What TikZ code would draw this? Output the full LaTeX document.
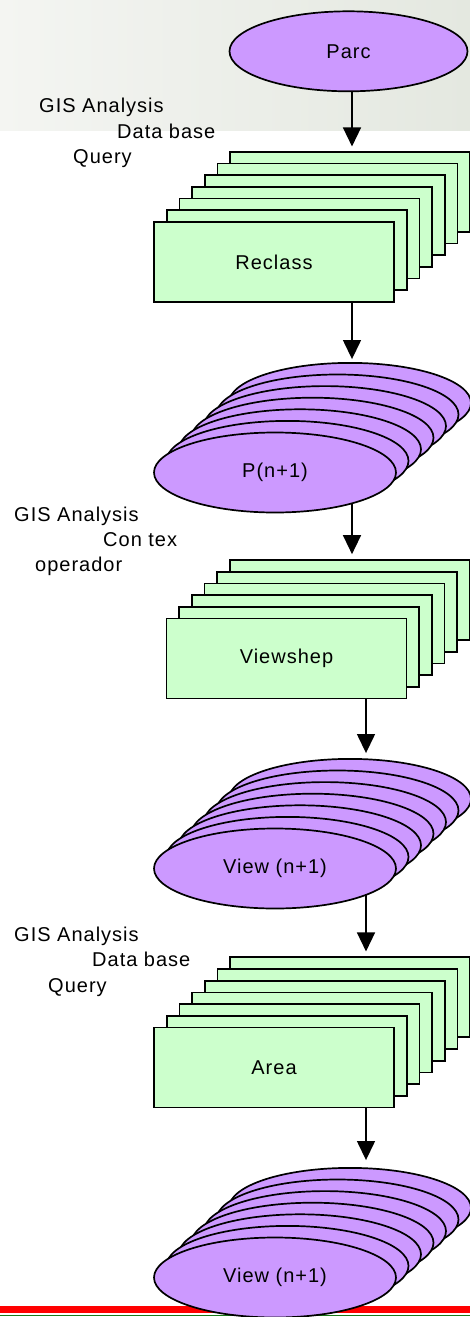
\documentclass[tikz,border=0pt]{standalone}
\usepackage{fontspec}
\setmainfont{Liberation Sans}[LetterSpace=5]
\usetikzlibrary{shapes.geometric,arrows.meta,calc}

\definecolor{lilac}{HTML}{CC99FF}
\definecolor{mint}{HTML}{CCFFCC}
\definecolor{hazeL}{HTML}{F4F5F2}
\definecolor{hazeR}{HTML}{E4E8E0}
\definecolor{rule}{HTML}{FF0000}
\definecolor{ruleg}{HTML}{1A7A1A}

\pgfdeclarelayer{bg}
\pgfdeclarelayer{conn}
\pgfsetlayers{bg,conn,main}

\tikzset{
  txt/.style={font=\fontsize{20}{24}\selectfont},
  lbl/.style={txt, anchor=base west, inner sep=0pt},
  disc/.style={txt, ellipse, draw=black, line width=1.7pt, fill=lilac,
    minimum width=242pt, minimum height=80pt, inner sep=0pt},
  card/.style={txt, rectangle, draw=black, line width=1.7pt, fill=mint,
    minimum width=240pt, minimum height=80pt, inner sep=0pt},
  flow/.style={line width=1.4pt, -{Triangle[length=19pt,width=18pt]}},
}

\begin{document}
\begin{tikzpicture}[x=1pt,y=-1pt]
\useasboundingbox (0,0) rectangle (470,1317);

% shaded band behind the first step, rules along the bottom
\begin{pgfonlayer}{bg}
  \shade[left color=hazeL, right color=hazeR] (0,0) rectangle (470,130);
  \fill[rule] (0,1306) rectangle (470,1313);
  \draw[ruleg, line width=1.2pt] (0,1315.6) -- (470,1315.6);
\end{pgfonlayer}

% source layer
\node[disc, minimum width=238pt] (parc) at (348.5,51.3) {Parc};

% step 1: reclassification cards
\foreach \k in {6,5,...,1}
  \node[card] (rA\k) at ($(274,262)+\k*(12.7,-11.7)$) {};
\node[card] (rA0) at (274,262) {Reclass};

% result stack P(n+1)
\foreach \k in {6,5,...,1}
  \node[disc] (eA\k) at ($(275,472.5)+\k*(12.5,-11.6)$) {};
\node[disc] (eA0) at (275,472.5) {P(n+1)};

% step 2: viewshed cards
\foreach \k in {5,4,...,1}
  \node[card] (rB\k) at ($(286.5,658.5)+\k*(12.7,-11.7)$) {};
\node[card] (rB0) at (286.5,658.5) {Viewshep};

% result stack View (n+1)
\foreach \k in {6,5,...,1}
  \node[disc] (eB\k) at ($(275,868.5)+\k*(12.5,-11.6)$) {};
\node[disc] (eB0) at (275,868.5) {View (n+1)};

% step 3: area cards
\foreach \k in {6,5,...,1}
  \node[card] (rC\k) at ($(274,1067.5)+\k*(12.7,-11.7)$) {};
\node[card] (rC0) at (274,1067.5) {Area};

% final result stack
\foreach \k in {6,5,...,1}
  \node[disc] (eC\k) at ($(275,1277.5)+\k*(12.5,-11.6)$) {};
\node[disc] (eC0) at (275,1277.5) {View (n+1)};

% vertical flow lines
\coordinate (xa) at (352,0);
\coordinate (xb) at (366,0);
\begin{pgfonlayer}{conn}
  \draw[flow, shorten >=4.5pt] (xa |- parc.center) -- (xa |- rA6.north);
  \draw[flow, shorten >=3pt]   (xa |- rA0.center) -- (xa |- eA6.north);
  \draw[flow, shorten >=5pt]   (xa |- eA0.center) -- (xa |- rB5.north);
  \draw[flow, shorten >=5pt]   (xb |- rB0.center) -- (xb |- eB6.north);
  \draw[flow, shorten >=5pt]   (xb |- eB0.center) -- (xb |- rC6.north);
  \draw[flow, shorten >=7pt]   (xb |- rC0.center) -- (xb |- eC6.north);
\end{pgfonlayer}

% side notes
\node[lbl] (n1a) at (39,112.5)  {GIS Analysis};
\node[lbl] (n1b) at (117,138)   {Data base};
\node[lbl] (n1c) at (73,163.5)  {Query};

\node[lbl] (n2a) at (14,521.5)  {GIS Analysis};
\node[lbl] (n2b) at (103,546.5) {Con tex};
\node[lbl] (n2c) at (35,571.5)  {operador};

\node[lbl] (n3a) at (14,941.5)  {GIS Analysis};
\node[lbl] (n3b) at (92,966.5)  {Data base};
\node[lbl] (n3c) at (48,992)    {Query};
\end{tikzpicture}
\end{document}
